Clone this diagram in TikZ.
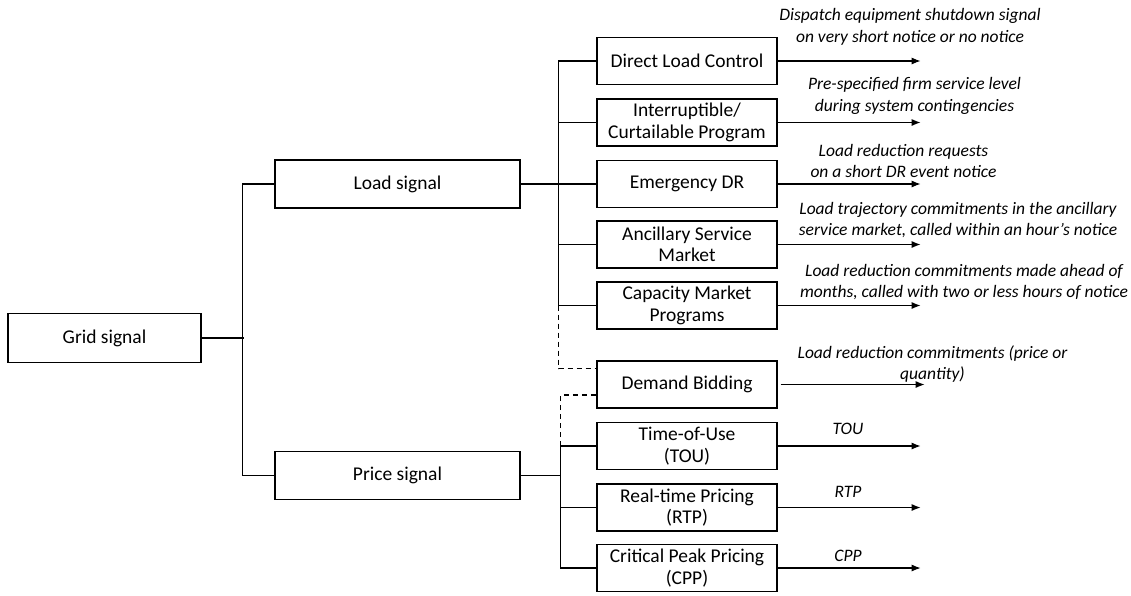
\documentclass[tikz,border=0pt]{standalone}
\usepackage{fontspec}
\setmainfont{Carlito}
\usetikzlibrary{arrows.meta, positioning, calc}

\tikzset{
  blk/.style={draw, line width=1.3pt, align=center, inner sep=2pt,
    font=\fontsize{19.5}{21.5}\selectfont},
  top/.style={blk, minimum width=193pt, minimum height=49pt},
  sig/.style={blk, minimum width=245pt, minimum height=48pt},
  prog/.style={blk, minimum width=180pt, minimum height=47pt},
  note/.style={align=center, inner sep=0pt, font=\fontsize{17.5}{21.5}\selectfont\itshape},
  arr/.style={-{Latex[length=9pt,width=7pt]}},
  link/.style={dashed, line width=1.4pt, dash pattern=on 5pt off 4pt},
}

\begin{document}
\begin{tikzpicture}[x=1pt, y=-1pt, line width=1.1pt]
\useasboundingbox (0,0) rectangle (1131,595);

% grid level
\node[top] (grid) at (104.5,338) {Grid signal};
\node[sig] (load) at (397.5,184) {Load signal};
\node[sig] (price) at (397.5,475.5) {Price signal};
\draw (load.west) -| ++(-32,0) |- (price.west);
\draw (grid.east) -- ++(42,0);

% load signal programs
\node[prog] (dlc) at (687,61) {Direct Load Control};
\node[prog] (icp) at (687,122.5) {Interruptible/\\Curtailable Program};
\node[prog] (edr) at (687,184) {Emergency DR};
\node[prog] (asm) at (687,244.5) {Ancillary Service\\Market};
\node[prog] (cmp) at (687,305.5) {Capacity Market\\Programs};
\path (load.east) ++(38,0) coordinate (lbus);
\draw (load.east) -- (lbus);
\draw (dlc.west) -| (lbus |- cmp.west) -- (cmp.west);
\foreach \p in {icp,edr,asm}
  \draw (lbus |- \p.west) -- (\p.west);

% demand bidding, shared by both
\node[prog] (db) at (687,384.5) {Demand Bidding};
\coordinate (dbin1) at ($(db.north west)!0.17!(db.south west)$);
\coordinate (dbin2) at ($(db.north west)!0.72!(db.south west)$);
\draw[link] (lbus |- cmp.west) |- (dbin1);

% price signal programs
\node[prog] (tou) at (687,446) {Time-of-Use\\(TOU)};
\node[prog] (rtp) at (687,507.5) {Real-time Pricing\\(RTP)};
\node[prog] (cpp) at (687,568) {Critical Peak Pricing\\(CPP)};
\path (price.east) ++(40,0) coordinate (pbus);
\draw (price.east) -- (pbus);
\draw (tou.west) -| (pbus |- cpp.west) -- (cpp.west);
\draw (pbus |- rtp.west) -- (rtp.west);
\draw[link] (pbus |- tou.west) |- (dbin2);

% outputs
\foreach \p in {dlc,icp,edr,asm,cmp,tou,rtp,cpp}
  \draw[arr] (\p.east) -- ++(143,0);
\draw[arr] ([xshift=3pt]db.east) -- ++(144,0);

\node[note] (dlcnote) at (910,27) {Dispatch equipment shutdown signal\\on very short notice or no notice};
\node[note] (icpnote) at (914.5,96) {Pre-specified firm service level\\during system contingencies};
\node[note] (edrnote) at (903.5,161) {Load reduction requests\\on a short DR event notice};
\node[note] (asmnote) at (958,220) {Load trajectory commitments in the ancillary\\service market, called within an hour's notice};
\node[note] (cmpnote) at (964,282) {Load reduction commitments made ahead of\\months, called with two or less hours of notice};
\node[note] (dbnote) at (932.5,364) {Load reduction commitments (price or\\quantity)};
\node[note] (tounote) at (848,429) {TOU};
\node[note] (rtpnote) at (848,492) {RTP};
\node[note] (cppnote) at (848,556) {CPP};
\end{tikzpicture}
\end{document}
